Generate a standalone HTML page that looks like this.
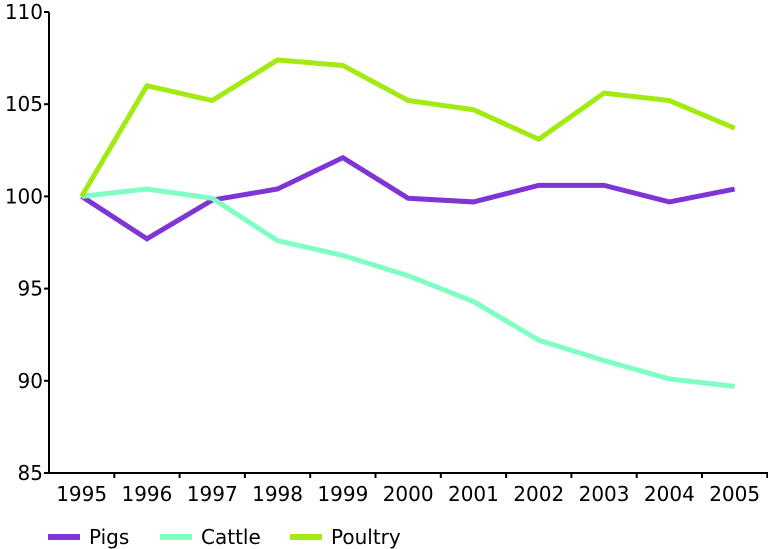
<!DOCTYPE html>
<html><head><meta charset="utf-8"><style>
body{margin:0;background:#fff;}
svg{display:block;font-family:"DejaVu Sans","Liberation Sans",sans-serif;}
</style></head><body>
<svg id="chart" width="768" height="549" viewBox="0 0 768 549"></svg>
<script>
const years=["1995","1996","1997","1998","1999","2000","2001","2002","2003","2004","2005"];
const pigs=[100,97.7,99.8,100.4,102.1,99.9,99.7,100.6,100.6,99.7,100.4];
const cattle=[100,100.4,99.9,97.6,96.8,95.7,94.3,92.2,91.1,90.1,89.7];
const poultry=[100,106.0,105.2,107.4,107.1,105.2,104.7,103.1,105.6,105.2,103.7];
const yTicks=[85,90,95,100,105,110];
const seriesNames=["Pigs","Cattle","Poultry"];
const NS="http://www.w3.org/2000/svg";
const svg=document.getElementById('chart');
const x0=49,x1=768,yTop=12,yBot=473,vMin=85,vMax=110;
const band=65.3;
const xs=i=>x0+band*(i+0.5);
const ys=v=>yBot-(v-vMin)/(vMax-vMin)*(yBot-yTop);
function mk(t,a){const e=document.createElementNS(NS,t);for(const k in a)e.setAttribute(k,a[k]);svg.appendChild(e);return e;}
let ax=mk('line',{x1:x0,y1:yTop,x2:x0,y2:yBot+1,stroke:'#000','stroke-width':2});


ax=mk('line',{x1:x0-1,y1:yBot,x2:x1,y2:yBot,stroke:'#000','stroke-width':2});


yTicks.forEach(v=>{
 const y=ys(v);
 const t=mk('line',{x1:x0-5,y1:y,x2:x0,y2:y,stroke:'#000','stroke-width':2});
 
 
 const l=mk('text',{x:x0-6,y:y+7,'text-anchor':'end','font-size':20,fill:'#000'});
 l.textContent=v;
 
 
});
for(let i=0;i<=years.length;i++){
 const x=x0+band*i;
 if(i>0){const t=mk('line',{x1:x,y1:yBot,x2:x,y2:yBot+5,stroke:'#000','stroke-width':2});
 
 }
}
years.forEach((yr,i)=>{
 const l=mk('text',{x:xs(i),y:yBot+28,'text-anchor':'middle','font-size':20,fill:'#000'});
 l.textContent=yr;
 
 
});
const colors=["#7f35d6","#7fffc4","#a2ea12"];
[pigs,cattle,poultry].forEach((d,s)=>{
 const p=mk('polyline',{points:d.map((v,i)=>xs(i)+','+ys(v)).join(' '),fill:'none',stroke:colors[s],'stroke-width':5,'stroke-linejoin':'miter'});
 
 
});
const legX=[48,160,290];
seriesNames.forEach((n,s)=>{
 const g=mk('line',{x1:legX[s],y1:537,x2:legX[s]+32,y2:537,stroke:colors[s],'stroke-width':6});
 
 
 const t=mk('text',{x:legX[s]+41,y:544,'font-size':20,fill:'#000'});
 t.textContent=n;
 
 
});
</script>
</body></html>
